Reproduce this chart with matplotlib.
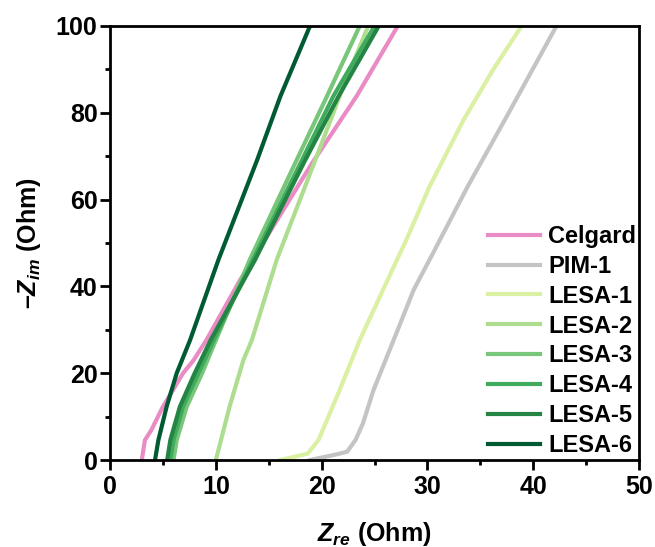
import matplotlib
matplotlib.use("Agg")
import matplotlib.pyplot as plt
from matplotlib.ticker import MultipleLocator

plt.rcParams['font.family'] = ['Liberation Sans', 'DejaVu Sans']
plt.rcParams['font.weight'] = 'bold'
plt.rcParams['mathtext.fontset'] = 'custom'
plt.rcParams['mathtext.it'] = 'Liberation Sans:italic:bold'
plt.rcParams['mathtext.rm'] = 'Liberation Sans:bold'
plt.rcParams['mathtext.bf'] = 'Liberation Sans:bold'

labels = ["Celgard", "PIM-1", "LESA-1", "LESA-2", "LESA-3", "LESA-4", "LESA-5", "LESA-6"]
colors = ["#E98BC4", "#C4C4C4", "#DAF0A3", "#ADDD8E", "#78C679", "#41AB5D", "#238443", "#005A32"]

celgard_x = [3.0, 3.3, 3.9, 5.0, 6.9, 7.9, 9.1, 12.3, 19.1, 23.3, 27.2]
celgard_y = [0, 4.6, 6.9, 12.3, 20.0, 23.0, 27.6, 41.5, 68.4, 83.8, 100]

pim1_x = [18.9, 21.4, 22.4, 23.2, 23.9, 24.9, 26.8, 28.7, 30.6, 33.8, 37.3, 42.2]
pim1_y = [0, 1.3, 1.9, 4.6, 8.4, 16.1, 27.6, 39.2, 48.0, 63.0, 78.3, 100]

lesa1_x = [16.1, 18.7, 19.7, 20.5, 21.7, 23.6, 25.8, 28.0, 30.2, 33.4, 36.2, 38.9]
lesa1_y = [0, 1.5, 4.6, 9.2, 16.1, 27.6, 39.2, 50.7, 63.0, 78.3, 89.9, 100]

lesa2_x = [10.0, 11.3, 12.6, 13.4, 15.75, 19.4, 21.7, 24.4]
lesa2_y = [0, 12.3, 23.0, 27.6, 46.1, 69.1, 83.8, 100]

lesa3_x = [6.0, 6.3, 7.25, 8.7, 10.0, 13.2, 17.5, 20.5, 23.6]
lesa3_y = [0, 4.6, 12.3, 20.0, 27.6, 46.1, 68.4, 83.8, 100]

lesa4_x = [5.7, 6.0, 6.9, 8.35, 9.8, 13.5, 18.0, 21.1, 25.0]
lesa4_y = [0, 4.6, 12.3, 20.0, 27.6, 46.1, 68.4, 83.8, 100]

lesa5_x = [5.4, 5.7, 6.6, 8.0, 9.5, 13.7, 18.3, 21.6, 25.4]
lesa5_y = [0, 4.6, 12.3, 20.0, 27.6, 46.1, 68.4, 83.8, 100]

lesa6_x = [4.25, 4.57, 5.35, 6.3, 7.56, 10.24, 13.9, 16.1, 18.9]
lesa6_y = [0, 4.6, 12.3, 20.0, 27.6, 46.1, 69.1, 83.8, 100]

series_x = [celgard_x, pim1_x, lesa1_x, lesa2_x, lesa3_x, lesa4_x, lesa5_x, lesa6_x]
series_y = [celgard_y, pim1_y, lesa1_y, lesa2_y, lesa3_y, lesa4_y, lesa5_y, lesa6_y]

fig = plt.figure(figsize=(6.55, 5.47), dpi=100)
ax = fig.add_axes([0.168, 0.159, 0.8076, 0.7935])

for xs, ys, c, lab in zip(series_x, series_y, colors, labels):
    ax.plot(xs, ys, color=c, lw=3.0, label=lab, solid_joinstyle='round')

ax.set_xlim(0, 50)
ax.set_ylim(0, 100)
ax.xaxis.set_major_locator(MultipleLocator(10))
ax.xaxis.set_minor_locator(MultipleLocator(5))
ax.yaxis.set_major_locator(MultipleLocator(20))
ax.yaxis.set_minor_locator(MultipleLocator(10))
ax.tick_params(which='major', direction='out', length=7, width=2, labelsize=18)
ax.tick_params(axis='x', which='major', pad=4)
ax.tick_params(axis='y', which='major', pad=2)
ax.tick_params(which='minor', direction='out', length=3.5, width=2)
for lab in ax.get_xticklabels() + ax.get_yticklabels():
    lab.set_fontweight('bold')
for s in ax.spines.values():
    s.set_linewidth(2)

ax.set_xlabel(r'$\mathit{Z}_{\mathit{re}}$ (Ohm)', fontsize=18, fontweight='bold', labelpad=15)
ax.set_ylabel(r'–$\mathit{Z}_{\mathit{im}}$ (Ohm)', fontsize=18, fontweight='bold', labelpad=9)

leg = ax.legend(loc='lower right', frameon=False, handlelength=2.2,
                labelspacing=0.29, handletextpad=0.35, borderaxespad=0.1, borderpad=0.03,
                prop={'weight': 'bold', 'size': 17})

fig.savefig("out.png", dpi=100)
